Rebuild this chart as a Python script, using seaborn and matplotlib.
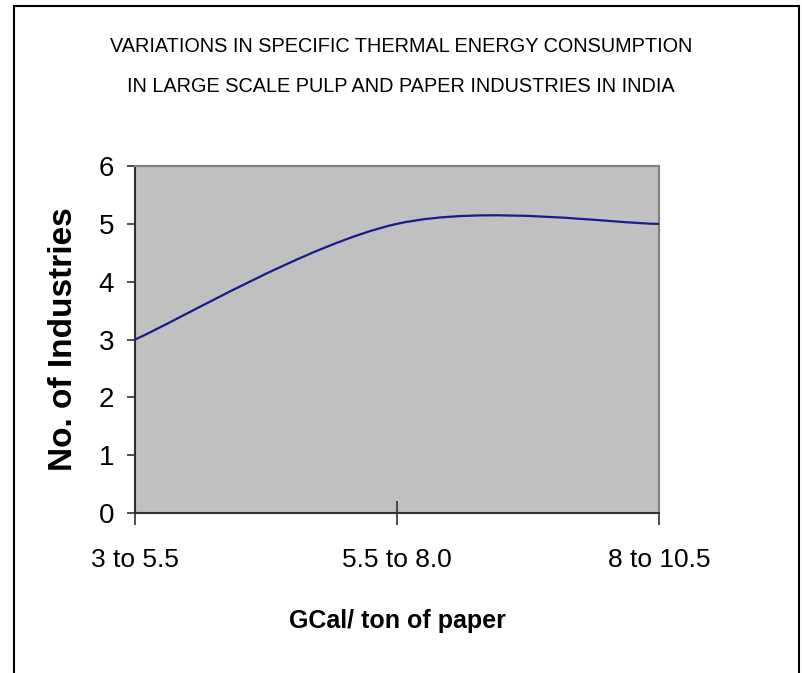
import matplotlib
matplotlib.use("Agg")
import matplotlib.pyplot as plt
import seaborn as sns
from matplotlib.path import Path
from matplotlib.patches import PathPatch, Rectangle

# data
ranges = ["3 to 5.5", "5.5 to 8.0", "8 to 10.5"]
industries = [3, 5, 5]
y_ticks = [0, 1, 2, 3, 4, 5, 6]

sns.set_theme(style="white")
narrow = ["Liberation Sans Narrow", "Liberation Sans", "DejaVu Sans"]
plt.rcParams["font.family"] = narrow
plt.rcParams["text.color"] = "black"
plt.rcParams["axes.labelcolor"] = "black"
plt.rcParams["xtick.color"] = "black"
plt.rcParams["ytick.color"] = "black"


def smooth_path(xs, ys):
    """Excel-like smoothed line: cubic Bezier segments through the points."""
    pts = list(zip(xs, ys))
    n = len(pts)
    verts = [pts[0]]
    codes = [Path.MOVETO]
    for i in range(n - 1):
        p_prev = pts[max(i - 1, 0)]
        p0, p1 = pts[i], pts[i + 1]
        p_next = pts[min(i + 2, n - 1)]
        c1 = (p0[0] + (p1[0] - p_prev[0]) / 6, p0[1] + (p1[1] - p_prev[1]) / 6)
        c2 = (p1[0] - (p_next[0] - p0[0]) / 6, p1[1] - (p_next[1] - p0[1]) / 6)
        verts += [c1, c2, p1]
        codes += [Path.CURVE4] * 3
    return Path(verts, codes)


fig = plt.figure(figsize=(8.02, 6.73), dpi=100)
ax = fig.add_axes([0.1683, 0.2377, 0.6534, 0.5156])
ax.set_facecolor("#C0C0C0")

pos = list(range(len(ranges)))
ax.add_patch(PathPatch(smooth_path(pos, industries), fill=False,
                       edgecolor="#1A1A8A", lw=1.6, zorder=3))

ax.set_xlim(0, len(ranges) - 1)
ax.set_ylim(0, 6)
ax.set_xticks(pos)
ax.set_xticklabels(ranges, fontsize=19)
ax.set_yticks(y_ticks)
ax.set_yticklabels([str(v) for v in y_ticks], fontsize=20)

ax.tick_params(axis="x", direction="inout", length=17, width=1.2,
               color="#303030", pad=17, bottom=True)
ax.tick_params(axis="y", direction="out", length=6, width=1.2,
               color="#303030", pad=9, left=True)

for side in ["left", "bottom"]:
    ax.spines[side].set_color("#303030")
    ax.spines[side].set_linewidth(1.5)
for side in ["top", "right"]:
    ax.spines[side].set_color("#808080")
    ax.spines[side].set_linewidth(1.5)

ax.set_xlabel("GCal/ ton of paper", fontsize=18, fontweight="bold", labelpad=26)
ax.set_ylabel("No. of Industries", fontsize=24, fontweight="bold",
              family=["Liberation Sans", "DejaVu Sans"], labelpad=14)

fig.text(0.5, 0.931, "VARIATIONS IN SPECIFIC THERMAL ENERGY CONSUMPTION",
         ha="center", va="center", fontsize=14.3)
fig.text(0.5, 0.872, "IN LARGE SCALE PULP AND PAPER INDUSTRIES IN INDIA",
         ha="center", va="center", fontsize=14.3)

# outer chart border (bottom edge is off the picture)
fig.patches.append(Rectangle((14 / 802, -0.02), 785 / 802, 1.011,
                             transform=fig.transFigure, fill=False,
                             edgecolor="black", lw=1.5))

fig.savefig("out.png", dpi=100)
